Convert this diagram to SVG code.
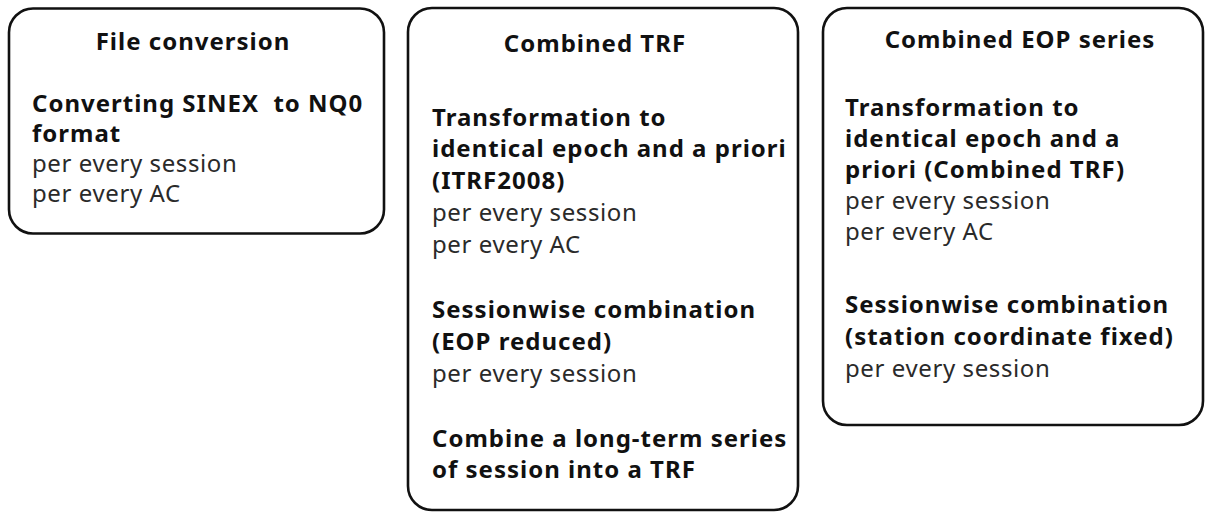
<svg xmlns="http://www.w3.org/2000/svg" width="1205" height="512" viewBox="0 0 1205 512">
  <style>
    .box { fill: #ffffff; stroke: #111111; stroke-width: 2.6; }
    .t { font-family: "Noto Sans", "Open Sans", "Liberation Sans", sans-serif; font-size: 24px; white-space: pre; }
    .h { font-weight: bold; fill: #111111; text-anchor: middle; letter-spacing: 1px; }
    .b { font-weight: bold; fill: #111111; letter-spacing: 1px; }
    .r { font-weight: normal; fill: #2a2a2a; letter-spacing: 0.6px; }
  </style>
  <rect width="1205" height="512" fill="#ffffff"/>
  <g id="connectors"></g>
  <g id="file-conversion">
    <rect class="box" x="9" y="8.5" width="375" height="225" rx="24" ry="24"/>
    <text class="t h" x="193" y="50">File conversion</text>
    <text class="t b" x="32" y="112" xml:space="preserve">Converting SINEX  to NQ0</text>
    <text class="t b" x="32" y="142">format</text>
    <text class="t r" x="32" y="172">per every session</text>
    <text class="t r" x="32" y="202">per every AC</text>
  </g>
  <g id="combined-trf">
    <rect class="box" x="408" y="8" width="390" height="502" rx="24" ry="24"/>
    <text class="t h" x="595" y="52">Combined TRF</text>
    <text class="t b" x="432" y="126">Transformation to</text>
    <text class="t b" x="432" y="157">identical epoch and a priori</text>
    <text class="t b" x="432" y="189">(ITRF2008)</text>
    <text class="t r" x="432" y="221">per every session</text>
    <text class="t r" x="432" y="253">per every AC</text>
    <text class="t b" x="432" y="318">Sessionwise combination</text>
    <text class="t b" x="432" y="350">(EOP reduced)</text>
    <text class="t r" x="432" y="382">per every session</text>
    <text class="t b" x="432" y="447">Combine a long-term series</text>
    <text class="t b" x="432" y="478">of session into a TRF</text>
  </g>
  <g id="combined-eop">
    <rect class="box" x="823" y="8" width="380" height="417" rx="24" ry="24"/>
    <text class="t h" x="1020" y="48">Combined EOP series</text>
    <text class="t b" x="845" y="116">Transformation to</text>
    <text class="t b" x="845" y="147">identical epoch and a</text>
    <text class="t b" x="845" y="178">priori (Combined TRF)</text>
    <text class="t r" x="845" y="209">per every session</text>
    <text class="t r" x="845" y="240">per every AC</text>
    <text class="t b" x="845" y="313">Sessionwise combination</text>
    <text class="t b" x="845" y="345">(station coordinate fixed)</text>
    <text class="t r" x="845" y="377">per every session</text>
  </g>
</svg>
